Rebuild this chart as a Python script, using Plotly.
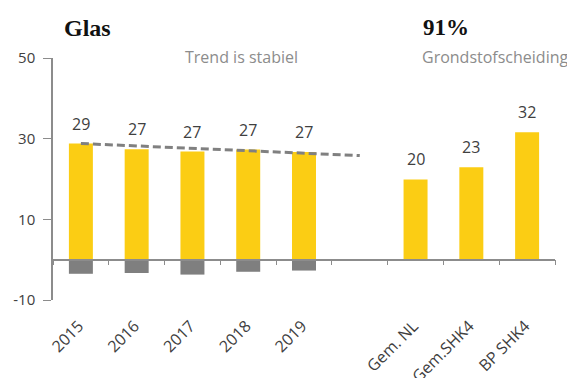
import plotly.graph_objects as go

categories = ["2015", "2016", "2017", "2018", "2019", " ", "Gem. NL", "Gem.SHK4", "BP SHK4"]
positive = [28.8, 27.4, 26.8, 27.3, 26.7, None, 19.9, 22.9, 31.6]
negative = [-3.5, -3.3, -3.7, -3.0, -2.7, None, None, None, None]
labels = ["29", "27", "27", "27", "27", "", "20", "23", "32"]
trend_x = ["2015", " "]
trend_y = [28.8, 25.8]
y_ticks = [-10, 10, 30, 50]
y_ticktext = ["-10", "10", "30", "50"]

YELLOW = "#FBCD14"
GREY = "#7F7F7F"
TXT = "#404040"
FONT = "Open Sans"

# page body has an 8px offset; plot area target: x 53..555, y 58..300
OFF = 8
L, T = 53 - OFF, 58 - OFF
PW, PH = 502, 242

fig = go.Figure()
fig.add_trace(go.Bar(x=categories, y=positive, marker=dict(color=YELLOW, line=dict(width=0)),
                     width=0.43, showlegend=False, hoverinfo="skip"))
fig.add_trace(go.Bar(x=categories, y=negative, marker=dict(color=GREY, line=dict(width=0)),
                     width=0.43, showlegend=False, hoverinfo="skip"))
fig.add_trace(go.Scatter(x=trend_x, y=trend_y, mode="lines",
                         line=dict(color="#808080", width=3, dash="8px,4px"),
                         showlegend=False, hoverinfo="skip"))

for i, (v, t) in enumerate(zip(positive, labels)):
    if v is None:
        continue
    fig.add_annotation(x=i, y=v, text=t, showarrow=False, yanchor="bottom", yshift=7,
                       font=dict(family=FONT, size=16, color=TXT))

# Titles (positions relative to the plot area)
fig.add_annotation(xref="paper", yref="paper", x=(62 - 53) / PW, y=1 + (58 - 28) / PH,
                   xanchor="left", yanchor="middle", text="<b>Glas</b>", showarrow=False,
                   font=dict(family="Liberation Serif", size=24, color="#111111"))
fig.add_annotation(xref="paper", yref="paper", x=(421 - 53) / PW, y=1 + (58 - 28) / PH,
                   xanchor="left", yanchor="middle", text="<b>91%</b>", showarrow=False,
                   font=dict(family="Liberation Serif", size=23, color="#111111"))
fig.add_annotation(xref="paper", yref="paper", x=(241 - 53) / PW, y=1 + (58 - 57) / PH,
                   xanchor="center", yanchor="middle", text="Trend is stabiel", showarrow=False,
                   font=dict(family=FONT, size=16, color="#8C8C8C"))
fig.add_annotation(xref="paper", yref="paper", x=(420 - 53) / PW, y=1 + (58 - 57) / PH,
                   xanchor="left", yanchor="middle", text="Grondstofscheiding", showarrow=False,
                   font=dict(family=FONT, size=16, color="#8C8C8C"))

zero_pos = 10 / 60

fig.update_layout(
    width=575, height=378,
    margin=dict(l=L, r=575 - L - PW, t=T, b=378 - T - PH),
    paper_bgcolor="white", plot_bgcolor="white",
    barmode="relative",
    xaxis=dict(type="category", categoryorder="array", categoryarray=categories,
               range=[-0.5, len(categories) - 0.5], automargin=False,
               anchor="free", position=zero_pos,
               showline=True, linecolor="#8C8C8C", linewidth=1.5,
               ticks="outside", tickson="boundaries", ticklen=5, tickcolor="#8C8C8C",
               tickangle=-45, ticklabelstandoff=50, ticklabelshift=-2,
               tickfont=dict(family=FONT, size=16, color=TXT),
               showgrid=False, zeroline=False),
    yaxis=dict(range=[-10, 50], tickmode="array", tickvals=y_ticks, ticktext=y_ticktext,
               automargin=False,
               showline=True, linecolor="#8C8C8C", linewidth=1.5,
               ticks="outside", ticklen=8, tickcolor="#8C8C8C", ticklabelstandoff=5,
               tickfont=dict(family=FONT, size=15, color=TXT),
               showgrid=False, zeroline=False),
)

fig.write_html("out.html")
